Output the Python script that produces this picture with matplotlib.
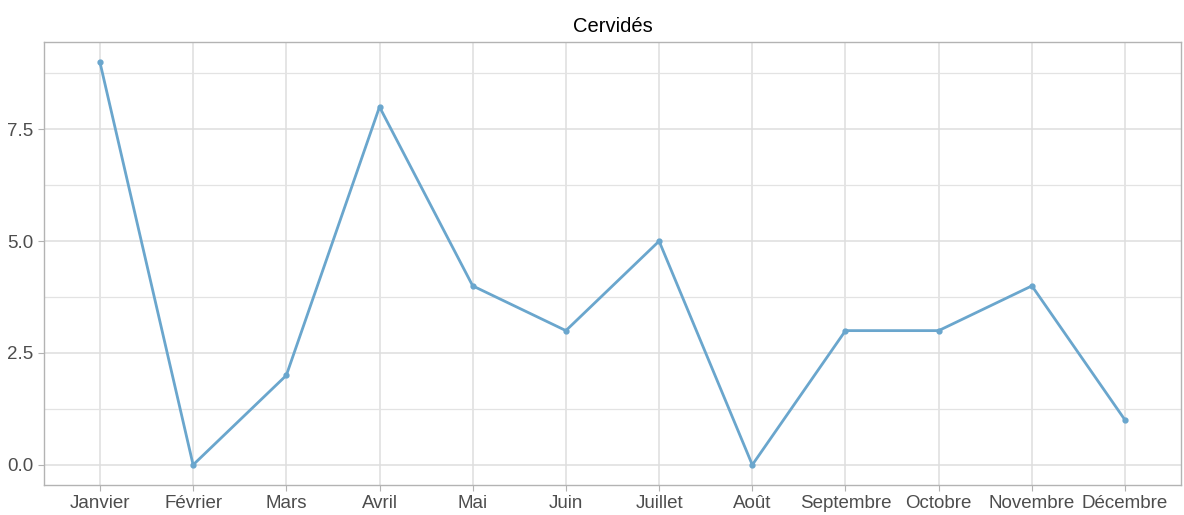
import matplotlib.pyplot as plt
import numpy as np

months = ['Janvier', 'Février', 'Mars', 'Avril', 'Mai', 'Juin', 'Juillet',
          'Août', 'Septembre', 'Octobre', 'Novembre', 'Décembre']
counts = [9, 0, 2, 8, 4, 3, 5, 0, 3, 3, 4, 1]
yticks = [0.0, 2.5, 5.0, 7.5]

plt.rcParams['font.family'] = ['Liberation Sans', 'DejaVu Sans']

fig = plt.figure(figsize=(11.84, 5.15), dpi=100)
ax = fig.add_axes([44 / 1184, 30 / 515, (1181 - 44) / 1184, (485 - 42) / 515])

x = np.arange(1, len(months) + 1)
ax.plot(x, counts, color='#6aa6cd', lw=2, marker='o', ms=3.5, zorder=3)

ax.set_xlim(0.4, 12.6)
ax.set_ylim(-0.45, 9.45)
ax.set_xticks(x)
ax.set_xticklabels(months)
ax.set_yticks(yticks)
ax.set_yticklabels([f'{v:.1f}' for v in yticks])
ax.set_yticks([1.25, 3.75, 6.25, 8.75], minor=True)

ax.grid(True, which='major', color='#dedede', lw=1.1)
ax.grid(True, which='minor', axis='y', color='#e3e3e3', lw=0.9)
ax.set_axisbelow(True)
for s in ax.spines.values():
    s.set_color('#b3b3b3')
    s.set_linewidth(1)
ax.tick_params(which='major', colors='#b3b3b3', labelcolor='#4d4d4d',
               labelsize=13.5, length=4)
ax.tick_params(which='minor', length=0)

ax.set_title('Cervidés', fontsize=14.5, color='black', pad=7)

fig.savefig('out.png', dpi=100)
